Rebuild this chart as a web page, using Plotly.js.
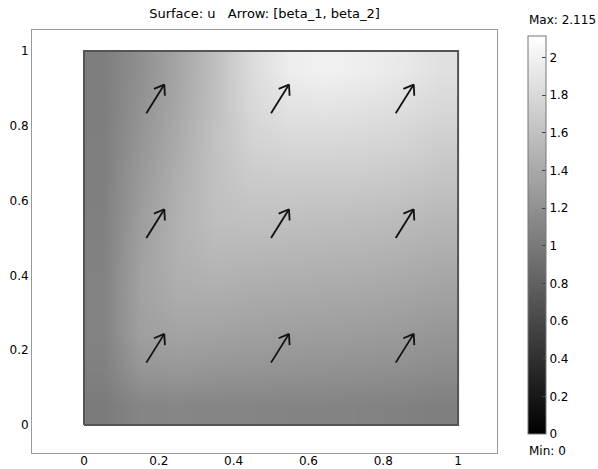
<!DOCTYPE html>
<html>
<head>
<meta charset="utf-8">
<script src="https://cdn.plot.ly/plotly-3.0.1.min.js"></script>
<style>html,body{margin:0;padding:0;background:#fff;}#plot{width:598px;height:469px;}</style>
</head>
<body>
<div id="plot"></div>
<script>
// Cell-centre coordinates of the sampled surface u
const xCenters = [0.05, 0.15, 0.25, 0.35, 0.45, 0.55, 0.65, 0.75, 0.85, 0.95];
const yCenters = [0.05, 0.15, 0.25, 0.35, 0.45, 0.55, 0.65, 0.75, 0.85, 0.95];
// u values, rows = y (bottom to top), cols = x (left to right)
const uValues = [
  [1.02, 1.10, 1.11, 1.10, 1.10, 1.09, 1.09, 1.08, 1.07, 1.05],
  [1.06, 1.24, 1.26, 1.24, 1.23, 1.22, 1.21, 1.20, 1.19, 1.16],
  [1.08, 1.32, 1.36, 1.35, 1.33, 1.32, 1.31, 1.30, 1.28, 1.25],
  [1.08, 1.34, 1.43, 1.44, 1.42, 1.41, 1.40, 1.39, 1.37, 1.34],
  [1.07, 1.33, 1.47, 1.52, 1.51, 1.50, 1.49, 1.48, 1.46, 1.43],
  [1.06, 1.30, 1.47, 1.58, 1.60, 1.59, 1.58, 1.57, 1.55, 1.52],
  [1.05, 1.27, 1.45, 1.60, 1.67, 1.68, 1.68, 1.67, 1.65, 1.61],
  [1.05, 1.24, 1.42, 1.60, 1.74, 1.78, 1.78, 1.77, 1.75, 1.70],
  [1.04, 1.21, 1.39, 1.59, 1.79, 1.88, 1.89, 1.87, 1.84, 1.79],
  [1.04, 1.19, 1.37, 1.58, 1.82, 1.97, 2.00, 1.97, 1.93, 1.86]
];
const uMin = 0;
const uMax = 2.115;

// Arrow field [beta_1, beta_2] sampled on a 3x3 grid
const arrowX = [1/6, 1/2, 5/6];
const arrowY = [1/6, 1/2, 5/6];
const beta1 = 1.0;
const beta2 = 1.6;
const arrowScale = 0.048;

// Domain outline
const domainX = [0, 1, 1, 0, 0];
const domainY = [0, 0, 1, 1, 0];

const tickVals = [0, 0.2, 0.4, 0.6, 0.8, 1];
const cbTickVals = [0, 0.2, 0.4, 0.6, 0.8, 1, 1.2, 1.4, 1.6, 1.8, 2];

// build arrow segments
const ax = [], ay = [];
const barbLen = 0.03, barbAng = 35 * Math.PI / 180;
arrowY.forEach(ty => {
  arrowX.forEach(tx => {
    const hx = tx + arrowScale * beta1, hy = ty + arrowScale * beta2;
    ax.push(tx, hx, null); ay.push(ty, hy, null);
    const n = Math.hypot(beta1, beta2);
    const bx = -beta1 / n, by = -beta2 / n;
    [barbAng, -barbAng].forEach(a => {
      const rx = bx * Math.cos(a) - by * Math.sin(a);
      const ry = bx * Math.sin(a) + by * Math.cos(a);
      ax.push(hx, hx + barbLen * rx, null);
      ay.push(hy, hy + barbLen * ry, null);
    });
  });
});

const font = {family: 'DejaVu Sans, Verdana, sans-serif', size: 12, color: '#000'};

const data = [
  {
    type: 'heatmap',
    x: xCenters, y: yCenters, z: uValues,
    zsmooth: 'best',
    zmin: uMin, zmax: uMax,
    colorscale: [[0, '#000000'], [1, '#ffffff']],
    hoverinfo: 'skip',
    colorbar: {
      xref: 'paper', yref: 'paper',
      x: (528 - 32) / 465, xanchor: 'left', xpad: 0,
      y: (453 - 36) / 423, yanchor: 'top', ypad: 0,
      len: 398 / 423, lenmode: 'fraction',
      thickness: 18, thicknessmode: 'pixels',
      outlinewidth: 1, outlinecolor: '#777',
      tickmode: 'array', tickvals: cbTickVals,
      ticks: 'inside', ticklen: 4, tickcolor: '#444',
      tickfont: font
    }
  },
  {
    type: 'scatter', mode: 'lines',
    x: domainX, y: domainY,
    line: {color: '#555', width: 2},
    hoverinfo: 'skip', showlegend: false
  },
  {
    type: 'scatter', mode: 'lines',
    x: ax, y: ay,
    line: {color: '#111', width: 1.8},
    hoverinfo: 'skip', showlegend: false
  }
];

const layout = {
  width: 598, height: 469,
  margin: {l: 32, r: 101, t: 30, b: 16, pad: 0},
  paper_bgcolor: '#fff', plot_bgcolor: '#fff',
  showlegend: false,
  font: font,
  title: {
    text: 'Surface: u\u00a0\u00a0\u00a0Arrow: [beta_1, beta_2]',
    font: {family: 'DejaVu Sans, Verdana, sans-serif', size: 13, color: '#000'},
    x: 0.5, xref: 'paper', xanchor: 'center',
    y: 1 - 13 / 469, yref: 'container', yanchor: 'middle'
  },
  xaxis: {
    range: [-0.139, 1.104], showgrid: false, zeroline: false,
    showline: true, mirror: true, linecolor: '#999', linewidth: 1,
    ticks: '', tickmode: 'array', tickvals: tickVals,
    ticklabelstandoff: -3,
    tickfont: font
  },
  yaxis: {
    range: [-0.075, 1.056], showgrid: false, zeroline: false,
    showline: true, mirror: true, linecolor: '#999', linewidth: 1,
    ticks: '', tickmode: 'array', tickvals: tickVals,
    tickfont: font
  },
  annotations: [
    {text: 'Max: ' + uMax, xref: 'paper', yref: 'paper',
     x: (527 - 32) / 465, y: (453 - 20) / 423, xanchor: 'left', yanchor: 'middle',
     showarrow: false, font: font},
    {text: 'Min: ' + uMin, xref: 'paper', yref: 'paper',
     x: (527 - 32) / 465, y: (453 - 451) / 423, xanchor: 'left', yanchor: 'middle',
     showarrow: false, font: font}
  ]
};

Plotly.newPlot('plot', data, layout, {displayModeBar: false, staticPlot: true});
</script>
</body>
</html>
